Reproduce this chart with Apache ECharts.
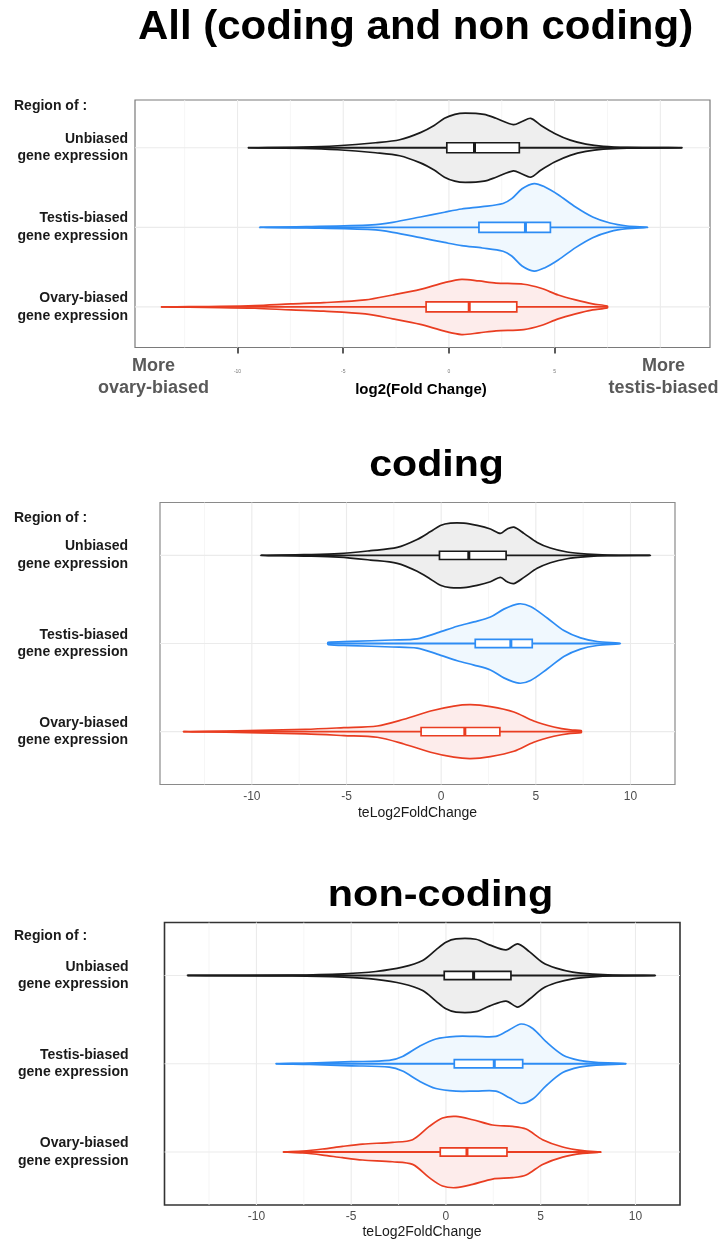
<!DOCTYPE html>
<html><head><meta charset="utf-8">
<script src="https://cdn.jsdelivr.net/npm/echarts@6/dist/echarts.min.js"></script>
<style>html,body{margin:0;padding:0;background:#fff}#c{width:720px;height:1245px}</style>
</head><body><div id="c"></div>
<script>
// ---------- DATA ----------
const categories = ['Unbiased\ngene expression', 'Testis-biased\ngene expression', 'Ovary-biased\ngene expression'];
const rowPositions = [3, 2, 1];
const xTickValues = [-10, -5, 0, 5, 10];
const xTickValuesAll = [-10, -5, 0, 5];
const minorGridValues = [-12.5, -7.5, -2.5, 2.5, 7.5];
const titles = ['All (coding and non coding)', 'coding', 'non-coding'];

// violin profiles: [log2FC, half width (in row units)]
const allUnbiased = [[-9.51,0],[-6.9,0.008],[-5.27,0.025],[-3.47,0.063],[-2.33,0.10],[-1.35,0.19],[-0.7,0.28],[-0.21,0.37],[0.28,0.42],[0.77,0.435],[1.66,0.42],[2.23,0.37],[3.05,0.29],[3.46,0.33],[3.87,0.37],[4.36,0.28],[5.0,0.18],[5.74,0.096],[6.48,0.046],[7.3,0.017],[8.43,0.004],[11.04,0]];
const allTestis = [[-8.97,0],[-6.74,0.008],[-3.64,0.03],[-2.66,0.063],[-1.35,0.13],[-0.21,0.19],[0.6,0.23],[1.58,0.26],[2.56,0.30],[2.97,0.36],[3.46,0.485],[4.03,0.55],[4.52,0.51],[5.17,0.41],[5.99,0.255],[6.8,0.13],[7.62,0.054],[8.43,0.017],[9.41,0]];
const allOvary = [[-13.62,0],[-10.8,0.008],[-9.18,0.017],[-7.47,0.038],[-5.92,0.054],[-3.96,0.088],[-2.66,0.15],[-1.35,0.22],[-0.21,0.305],[0.6,0.347],[1.42,0.326],[2.23,0.30],[3.54,0.285],[4.36,0.234],[5.17,0.15],[5.99,0.088],[6.8,0.038],[7.49,0.012]];

const codingUnbiased = [[-9.54,0],[-7.25,0.008],[-5.4,0.019],[-3.73,0.053],[-2.32,0.09],[-1.27,0.18],[-0.56,0.27],[-0.04,0.34],[0.49,0.366],[1.2,0.366],[1.9,0.34],[2.6,0.30],[3.13,0.25],[3.49,0.30],[3.84,0.32],[4.37,0.25],[5.07,0.147],[5.77,0.083],[6.65,0.038],[7.71,0.015],[8.77,0.004],[11.06,0]];
const codingTestis = [[-5.97,0.012],[-4.79,0.023],[-2.59,0.04],[-1.27,0.053],[-0.21,0.12],[0.85,0.196],[1.73,0.245],[2.6,0.30],[3.31,0.39],[4.1,0.45],[4.72,0.42],[5.6,0.29],[6.48,0.147],[7.36,0.064],[8.24,0.023],[9.47,0]];
const codingOvary = [[-13.63,0],[-10.77,0.008],[-7.17,0.026],[-5.14,0.045],[-3.38,0.064],[-1.97,0.14],[-0.56,0.234],[0.67,0.29],[1.55,0.306],[2.6,0.283],[3.84,0.223],[4.89,0.12],[5.95,0.053],[6.83,0.019],[7.39,0.012]];

const noncodingUnbiased = [[-13.64,0],[-8.1,0.004],[-5.37,0.019],[-3.7,0.045],[-2.29,0.094],[-1.23,0.17],[-0.53,0.29],[0,0.377],[0.53,0.415],[1.58,0.41],[2.29,0.347],[3.17,0.29],[3.79,0.358],[4.4,0.27],[5.1,0.147],[5.81,0.083],[6.69,0.038],[7.75,0.015],[8.8,0.004],[11.06,0]];
const noncodingTestis = [[-8.98,0],[-7.2,0.008],[-4.98,0.023],[-2.99,0.038],[-2.29,0.083],[-1.41,0.196],[-0.53,0.28],[0.53,0.31],[1.58,0.31],[2.64,0.31],[3.35,0.385],[3.96,0.45],[4.58,0.40],[5.28,0.25],[6.16,0.10],[7.04,0.038],[7.92,0.015],[9.51,0]];
const noncodingOvary = [[-8.59,0],[-7.57,0.011],[-6.51,0.034],[-5.46,0.064],[-4.4,0.09],[-2.82,0.11],[-1.76,0.14],[-0.88,0.29],[-0.18,0.385],[0.53,0.404],[1.41,0.366],[2.46,0.306],[3.52,0.29],[4.23,0.26],[5.1,0.14],[6.16,0.057],[7.22,0.015],[8.19,0]];

// box stats: [min, q1, median, q3, max]  (Unbiased, Testis, Ovary)
const allBoxes = [[-9.51,-0.1,1.21,3.33,11.04],[-8.97,1.42,3.62,4.80,9.41],[-13.62,-1.08,0.96,3.21,7.49]];
const codingBoxes = [[-9.54,-0.09,1.46,3.43,11.06],[-5.97,1.80,3.68,4.81,9.47],[-13.63,-1.06,1.25,3.10,7.39]];
const noncodingBoxes = [[-13.64,-0.09,1.46,3.43,11.06],[-8.98,0.44,2.55,4.05,9.51],[-8.59,-0.30,1.11,3.22,8.19]];

// ---------- CHART ----------
const FONT = '"Liberation Sans", Arial, Helvetica, sans-serif';
const xMin = -14.85, xMax = 12.35;
const strokes = ['#1a1a1a', '#2d8cf4', '#e93d21'];
const fills = ['#eeeeee', '#f0f8fe', '#fdeceb'];

const panels = [
  { profiles: [allUnbiased, allTestis, allOvary], boxes: allBoxes, yMin:0.49, yMax:3.6, grid: {left:135, top:100, width:575, height:247.5}, border:'#7a7a7a', bw:1.2, boxHalf:0.063, labelMargin:7, yTick:false },
  { profiles: [codingUnbiased, codingTestis, codingOvary], boxes: codingBoxes, yMin:0.4, yMax:3.6, grid: {left:160, top:502.5, width:515, height:282}, border:'#8a8a8a', bw:1.2, boxHalf:0.047, labelMargin:32, yTick:false },
  { profiles: [noncodingUnbiased, noncodingTestis, noncodingOvary], boxes: noncodingBoxes, yMin:0.4, yMax:3.6, grid: {left:164.5, top:922.5, width:515.5, height:282.5}, border:'#333333', bw:1.6, boxHalf:0.047, labelMargin:36, yTick:true }
];

const grids = [], xAxes = [], yAxes = [], series = [];
panels.forEach((p, k) => {
  grids.push(Object.assign({ show:true, borderColor:p.border, borderWidth:p.bw, backgroundColor:'#fff', containLabel:false }, p.grid));
  const isAll = k === 0;
  xAxes.push({
    type:'value', gridIndex:k, min:xMin, max:xMax,
    axisLine:{show:false}, splitLine:{show:false},
    axisTick: isAll ? {show:true, customValues:xTickValuesAll, length:6, lineStyle:{color:'#333', width:1.6}} : {show:false},
    axisLabel: isAll
      ? {show:true, customValues:xTickValuesAll, fontSize:5, color:'#777', margin:22, fontFamily:FONT}
      : {show:true, customValues:xTickValues, fontSize:12, color:'#4d4d4d', margin:6, fontFamily:FONT}
  });
  yAxes.push({
    type:'value', gridIndex:k, min:p.yMin, max:p.yMax,
    axisLine:{show:false}, splitLine:{show:false},
    axisTick: p.yTick ? {show:true, customValues:rowPositions, length:3, lineStyle:{color:'#333', width:1}} : {show:false},
    axisLabel:{show:true, customValues:rowPositions, margin:p.labelMargin, fontSize:14, fontWeight:'bold', lineHeight:17.5,
      color:'#1a1a1a', fontFamily:FONT, align:'right',
      formatter: v => categories[rowPositions.indexOf(Math.round(v))] || ''}
  });
  // grid lines
  const gl = [];
  minorGridValues.forEach(v => gl.push([v, 2, 0]));
  xTickValues.forEach(v => gl.push([v, 2, 1]));
  rowPositions.forEach(r => gl.push([0, r, 2]));
  series.push({
    type:'custom', xAxisIndex:k, yAxisIndex:k, silent:true, z:1, data:gl, encode:{x:0, y:1},
    renderItem:(params, api) => {
      const kind = api.value(2);
      let a, b;
      if (kind === 2) { a = api.coord([xMin, api.value(1)]); b = api.coord([xMax, api.value(1)]); }
      else { a = api.coord([api.value(0), p.yMin]); b = api.coord([api.value(0), p.yMax]); }
      return {type:'line', shape:{x1:a[0], y1:a[1], x2:b[0], y2:b[1]},
        style:{stroke: kind === 0 ? '#f4f4f4' : '#ebebeb', lineWidth: kind === 0 ? 0.8 : 1.1}};
    }
  });
  // violins
  series.push({
    type:'custom', xAxisIndex:k, yAxisIndex:k, silent:true, z:2, clip:true,
    data: p.boxes.map((b, i) => [b[2], rowPositions[i]]), encode:{x:0, y:1},
    renderItem:(params, api) => {
      const i = params.dataIndex, prof = p.profiles[i], yc = api.value(1);
      const top = prof.map(q => api.coord([q[0], yc + q[1]]));
      const bot = prof.filter(q => q[1] > 0).reverse().map(q => api.coord([q[0], yc - q[1]]));
      return {type:'polygon', shape:{points: top.concat(bot), smooth:0.3},
        style:{fill:fills[i], stroke:strokes[i], lineWidth:1.7, lineJoin:'round'}};
    }
  });
  // box plots
  series.push({
    type:'custom', xAxisIndex:k, yAxisIndex:k, silent:true, z:3, clip:true,
    data: p.boxes.map((b, i) => [rowPositions[i]].concat(b)), encode:{x:[1,2,3,4,5], y:0},
    renderItem:(params, api) => {
      const i = params.dataIndex, yc = api.value(0), h = p.boxHalf;
      const mn = api.coord([api.value(1), yc]), mx = api.coord([api.value(5), yc]);
      const tl = api.coord([api.value(2), yc + h]), br = api.coord([api.value(4), yc - h]);
      const mt = api.coord([api.value(3), yc + h]), mb = api.coord([api.value(3), yc - h]);
      return {type:'group', children:[
        {type:'line', shape:{x1:mn[0], y1:mn[1], x2:mx[0], y2:mx[1]}, style:{stroke:strokes[i], lineWidth:1.9}},
        {type:'rect', shape:{x:tl[0], y:tl[1], width:br[0]-tl[0], height:br[1]-tl[1]}, style:{fill:'#fff', stroke:strokes[i], lineWidth:1.7}},
        {type:'line', shape:{x1:mt[0], y1:mt[1], x2:mb[0], y2:mb[1]}, style:{stroke:strokes[i], lineWidth:3}}
      ]};
    }
  });
});

function txt(text, x, y, size, weight, color, align, sx) {
  return {type:'text', x:x, y:y, scaleX: sx || 1, silent:true, z:10,
    style:{text:text, fontSize:size, fontWeight:weight, fontFamily:FONT, fill:color, align:align || 'center', verticalAlign:'middle'}};
}
const graphics = [
  txt(titles[0], 415.5, 27.8, 40, 'bold', '#000', 'center', 1.05),
  txt(titles[1], 436.5, 465.5, 37, 'bold', '#000', 'center', 1.11),
  txt(titles[2], 440.5, 896.5, 36, 'bold', '#000', 'center', 1.15),
  txt('Region of :', 14, 105.7, 14, 'bold', '#1a1a1a', 'left'),
  txt('Region of :', 14, 518.3, 14, 'bold', '#1a1a1a', 'left'),
  txt('Region of :', 14, 935.7, 14, 'bold', '#1a1a1a', 'left'),
  txt('More', 153.5, 365.7, 18, 'bold', '#595959'),
  txt('ovary-biased', 153.5, 388.3, 18, 'bold', '#595959'),
  txt('More', 663.5, 365.7, 18, 'bold', '#595959'),
  txt('testis-biased', 663.5, 388.3, 18, 'bold', '#595959'),
  txt('log2(Fold Change)', 421, 389.5, 15, 'bold', '#000'),
  txt('teLog2FoldChange', 417.5, 812.7, 14, 'normal', '#1a1a1a'),
  txt('teLog2FoldChange', 422, 1231.7, 14, 'normal', '#1a1a1a')
];

const chart = echarts.init(document.getElementById('c'), null, {renderer:'canvas'});
chart.setOption({
  backgroundColor:'#fff', animation:false,
  grid:grids, xAxis:xAxes, yAxis:yAxes, series:series, graphic:graphics
});
</script></body></html>
